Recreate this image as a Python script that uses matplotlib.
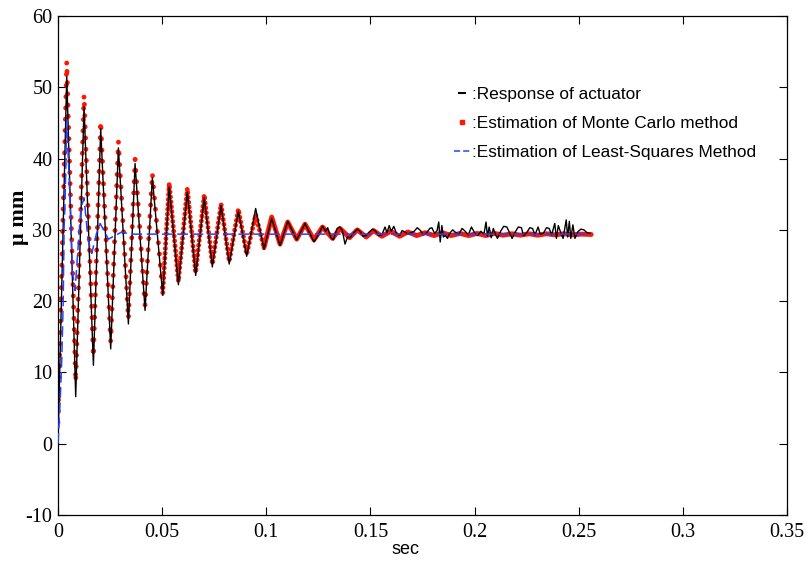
import matplotlib
matplotlib.use("Agg")
import matplotlib.pyplot as plt
from matplotlib.lines import Line2D

# ---------------- data ----------------
# Response of actuator (black): extrema of the oscillation, then the noisy tail
t_resp = [0.0, 0.0042, 0.0085, 0.0125, 0.0170, 0.0205, 0.0253, 0.0290, 0.0338, 0.0370,
          0.0418, 0.0453, 0.0503, 0.0534, 0.0578, 0.0621, 0.0661, 0.0702, 0.0741, 0.0783,
          0.0822, 0.0866, 0.0906, 0.0949, 0.0989, 0.1026, 0.1066, 0.1103, 0.1146, 0.1186,
          0.1229, 0.1255, 0.1270, 0.1285, 0.1295, 0.1310, 0.1322, 0.1340, 0.1352, 0.1365,
          0.1378, 0.1390, 0.1402, 0.1420, 0.1437, 0.1450, 0.1465, 0.1480, 0.1495, 0.1510,
          0.1525, 0.1540, 0.1555, 0.1570, 0.1580, 0.1590, 0.1600, 0.1612, 0.1625, 0.1640,
          0.1652, 0.1665, 0.1680, 0.1695, 0.1710, 0.1725, 0.1740, 0.1755, 0.1770, 0.1785,
          0.1795, 0.1808, 0.1820, 0.1828, 0.1835, 0.1843, 0.1850, 0.1860, 0.1870, 0.1880,
          0.1895, 0.1910, 0.1925, 0.1940, 0.1955, 0.1970, 0.1985, 0.2000, 0.2015, 0.2030,
          0.2045, 0.2055, 0.2062, 0.2070, 0.2080, 0.2090, 0.2100, 0.2110, 0.2125, 0.2140,
          0.2155, 0.2168, 0.2180, 0.2195, 0.2210, 0.2225, 0.2235, 0.2250, 0.2265, 0.2278,
          0.2290, 0.2305, 0.2315, 0.2330, 0.2345, 0.2358, 0.2370, 0.2385, 0.2393, 0.2402,
          0.2415, 0.2425, 0.2440, 0.2447, 0.2455, 0.2462, 0.2472, 0.2482, 0.2495, 0.2510,
          0.2525, 0.2540, 0.2555]
y_resp = [0.0, 51.5, 6.6, 47.3, 11.0, 44.2, 13.3, 41.5, 16.8, 39.3,
          18.7, 37.3, 20.8, 36.0, 22.3, 35.3, 23.6, 34.5, 24.8, 33.4,
          25.2, 32.6, 26.3, 33.0, 27.3, 31.6, 27.8, 31.2, 28.6, 30.9,
          28.3, 29.6, 30.5, 29.8, 30.3, 28.9, 28.6, 30.2, 30.4, 29.9,
          28.0, 29.0, 28.9, 29.6, 30.1, 29.8, 29.1, 29.2, 29.7, 30.1,
          29.8, 29.2, 29.3, 30.4, 29.6, 30.6, 29.8, 30.5, 29.5, 29.2,
          29.9, 29.7, 29.4, 29.6, 29.8, 30.3, 29.9, 29.3, 29.6, 30.2,
          30.3, 29.5, 29.9, 31.1, 28.3, 30.6, 29.0, 29.2, 28.8, 29.5,
          30.0, 29.6, 29.4, 30.2, 29.8, 29.3, 30.4, 29.6, 29.2, 29.8,
          29.4, 31.1, 29.1, 30.4, 28.9, 30.2, 29.4, 28.8, 29.8, 30.5,
          30.4, 29.6, 28.8, 29.7, 30.4, 30.3, 29.2, 29.6, 30.3, 30.2,
          29.3, 30.4, 29.4, 29.5, 30.3, 30.2, 29.3, 30.9, 28.8, 30.6,
          29.5, 28.8, 31.4, 29.0, 31.2, 28.8, 30.7, 28.8, 29.7, 30.1,
          30.0, 29.6, 29.5]

# Estimation of Monte Carlo method (red dots): peaks and troughs
t_mc = [0.0, 0.0042, 0.0085, 0.0125, 0.0170, 0.0205, 0.0253, 0.0290, 0.0338, 0.0370,
        0.0418, 0.0453, 0.0503, 0.0534, 0.0578, 0.0621, 0.0661, 0.0702, 0.0741, 0.0783,
        0.0822, 0.0866, 0.0906, 0.0949, 0.0989, 0.1026, 0.1066, 0.1103, 0.1146, 0.1186,
        0.1229, 0.1270, 0.1318, 0.1354, 0.1400, 0.1437, 0.1480, 0.1515, 0.1555, 0.1597,
        0.1640, 0.1680, 0.1722, 0.1763, 0.1805, 0.1846, 0.1888, 0.1930, 0.1971, 0.2013,
        0.2054, 0.2096, 0.2137, 0.2179, 0.2220, 0.2262, 0.2303, 0.2345, 0.2386, 0.2428,
        0.2469, 0.2511, 0.2560]
y_mc = [3.0, 53.6, 8.7, 48.9, 12.2, 45.2, 14.3, 42.4, 17.5, 39.9,
        19.4, 37.9, 21.2, 36.5, 22.8, 35.8, 24.0, 34.9, 25.2, 33.6,
        25.6, 32.9, 26.6, 32.1, 27.5, 31.8, 28.0, 31.1, 28.7, 30.8,
        28.6, 30.4, 28.8, 30.2, 28.9, 30.0, 29.0, 29.9, 29.1, 29.8,
        29.1, 29.7, 29.2, 29.6, 29.2, 29.6, 29.2, 29.5, 29.2, 29.5,
        29.2, 29.5, 29.25, 29.45, 29.25, 29.45, 29.25, 29.45, 29.3, 29.45,
        29.3, 29.4, 29.35]

# Estimation of Least-Squares Method (blue dashed)
t_ls = [0.0, 0.0010, 0.0018, 0.0025, 0.0029, 0.0034, 0.0042, 0.0058, 0.0070, 0.0082,
        0.0095, 0.0110, 0.0125, 0.0145, 0.0162, 0.0185, 0.0202, 0.0242, 0.0306, 0.0346,
        0.2560]
y_ls = [0.0, 5.7, 11.7, 20.0, 30.0, 34.0, 45.4, 34.0, 24.0, 21.5,
        27.0, 33.0, 34.5, 28.5, 26.7, 29.5, 30.9, 28.7, 29.7, 29.4,
        29.4]

x_ticks = [0, 0.05, 0.1, 0.15, 0.2, 0.25, 0.3, 0.35]
x_tick_labels = ["0", "0.05", "0.1", "0.15", "0.2", "0.25", "0.3", "0.35"]
y_ticks = [-10, 0, 10, 20, 30, 40, 50, 60]
y_tick_labels = ["-10", "0", "10", "20", "30", "40", "50", "60"]

labels = [":Response of actuator", ":Estimation of Monte Carlo method",
          ":Estimation of Least-Squares Method"]

# ---------------- figure ----------------
W, H = 806, 563
fig = plt.figure(figsize=(W / 100, H / 100), dpi=100)
ax = fig.add_axes([58 / W, 1 - 515 / H, (787 - 58) / W, (515 - 16) / H])

red = "#ff1500"
blue = "#2244ff"
# Monte Carlo estimate drawn as a chain of dots; spacing tighter where amplitude is small
i1 = next(i for i, t in enumerate(t_mc) if t >= 0.05)
i2 = next(i for i, t in enumerate(t_mc) if t >= 0.095)
ax.plot(t_mc[:i1 + 1], y_mc[:i1 + 1], color=red, lw=3.5, ls=(0, (0.01, 2.3)),
        dash_capstyle="round", zorder=2)
ax.plot(t_mc[i1:i2 + 1], y_mc[i1:i2 + 1], color=red, lw=3.5, ls=(0, (0.01, 1.0)),
        dash_capstyle="round", zorder=2)
ax.plot(t_mc[i2:], y_mc[i2:], color=red, lw=3.5, solid_capstyle="round", zorder=2)

ax.plot(t_resp, y_resp, color="black", lw=1.0, zorder=3)
ax.plot(t_ls, y_ls, color=blue, lw=1.1, ls=(0, (7, 3)), zorder=4)

ax.set_xlim(0, 0.35)
ax.set_ylim(-10, 60)
ax.set_xticks(x_ticks)
ax.set_xticklabels(x_tick_labels)
ax.set_yticks(y_ticks)
ax.set_yticklabels(y_tick_labels)
ax.tick_params(direction="in", length=5.5, width=0.8, top=True, right=True,
               labelsize=14.5, pad=6, colors="black")
for lab in ax.get_xticklabels() + ax.get_yticklabels():
    lab.set_family("Liberation Serif")
ax.tick_params(axis="y", pad=4)
for s in ax.spines.values():
    s.set_linewidth(0.9)

ax.set_xlabel("sec", fontsize=13, family="Liberation Sans", va="center")
ax.xaxis.set_label_coords((405 - 58) / 729, (515 - 550) / 499)
ax.set_ylabel("μ mm", fontsize=16, family="Liberation Serif", fontweight="bold",
              va="center")
ax.yaxis.set_label_coords((19 - 58) / 729, (515 - 217) / 499)

handles = [Line2D([], [], color="black", ls="none", marker="_", ms=6, mew=1.5),
           Line2D([], [], color=red, ls="none", marker="s", ms=3.2),
           Line2D([], [], color=blue, lw=1.1, ls=(0, (4, 2)))]
leg = ax.legend(handles, labels, loc="upper left",
                bbox_to_anchor=((454 - 58) / 729, (515 - 87) / 499),
                frameon=False, borderpad=0, borderaxespad=0, handlelength=0.92,
                handletextpad=0.12, labelspacing=0.82, numpoints=1,
                prop={"family": "Liberation Sans", "size": 12.4})

fig.savefig("out.png", dpi=100)
